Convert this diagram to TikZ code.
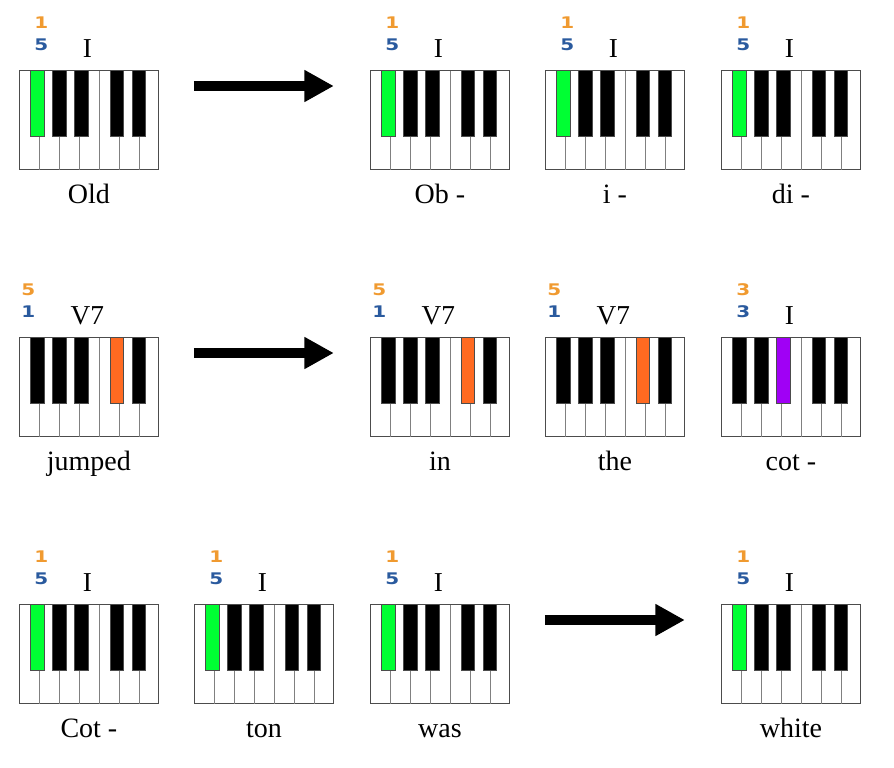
\documentclass[tikz,border=0pt]{standalone}
\usepackage{fontspec}
\setmainfont{Liberation Serif}
\newfontfamily\digitfont[FakeStretch=1.25]{DejaVu Sans}
\usetikzlibrary{arrows.meta}
\definecolor{key1}{HTML}{00FF33}
\definecolor{key3}{HTML}{A000F5}
\definecolor{key4}{HTML}{FF6A21}
\definecolor{fingertop}{HTML}{F09A30}
\definecolor{fingerbot}{HTML}{2A5A9E}
\tikzset{
  keyboard/.style={draw=black!70, fill=white, line width=.75pt, anchor=north west, inner sep=0pt, outer sep=0pt, minimum width=104.6pt, minimum height=74.6pt},
  blackkey/.style={draw=black!70, line width=.6pt},
  split/.style={draw=black!50, line width=1.1pt},
  chord/.style={font=\fontsize{20.5}{24}\selectfont, anchor=base, inner sep=0pt},
  lyric/.style={font=\fontsize{21}{24}\selectfont, anchor=base, inner sep=0pt},
  finger/.style={font=\digitfont\bfseries\fontsize{12}{14}\selectfont, inner sep=0pt},
  bigarrow/.style={line width=7.5pt, -{Triangle[length=22pt, width=22.5pt]}}
}
% name, x, y, chord, lyric, top finger, bottom finger, finger x, sounding key
\newcommand{\kb}[9]{
\begin{scope}[shift={(#2+.4,#3+.4)}]
\node (#1) [keyboard] at (0,0) {};
\foreach \kx in {20,40,60,100,120}
  \draw[split] (\kx,66) -- (\kx,99.2);
\draw[split] (80,.4) -- (80,99.2);
\foreach \n/\kx in {1/11.3,2/33.3,3/55.3,4/90.5,5/112.5} {
  \ifnum\n=#9 \def\keycol{key\n}\else\def\keycol{black}\fi
  \draw[blackkey, fill=\keycol] (\kx,0) rectangle (\kx+13.6,66.3);
}
\node (#1c) [chord] at (68,-13) {#4};
\node (#1l) [lyric] at (69.5,133) {#5};
\node (#1t) [finger, text=fingertop] at (#8,-48) {#6};
\node (#1b) [finger, text=fingerbot] at (#8,-26) {#7};
\end{scope}
}
\begin{document}
\begin{tikzpicture}[x=.75pt, y=-.75pt]
\useasboundingbox (0,0) rectangle (894,768);
\kb{old}{19}{70}{I}{Old}{1}{5}{22}{1}
\kb{ob}{370}{70}{I}{Ob -}{1}{5}{22}{1}
\kb{i}{545}{70}{I}{i -}{1}{5}{22}{1}
\kb{di}{721}{70}{I}{di -}{1}{5}{22}{1}
\kb{jumped}{19}{337}{V7}{jumped}{5}{1}{9}{4}
\kb{in}{370}{337}{V7}{in}{5}{1}{9}{4}
\kb{the}{545}{337}{V7}{the}{5}{1}{9}{4}
\kb{cot}{721}{337}{I}{cot -}{3}{3}{22}{3}
\kb{cotb}{19}{604}{I}{Cot -}{1}{5}{22}{1}
\kb{ton}{194}{604}{I}{ton}{1}{5}{22}{1}
\kb{was}{370}{604}{I}{was}{1}{5}{22}{1}
\kb{white}{721}{604}{I}{white}{1}{5}{22}{1}
\coordinate (a1) at ([shift={(35.1,15.6)}]old.north east);
\coordinate (b1) at ([shift={(-36.6,15.6)}]ob.north west);
\coordinate (a2) at ([shift={(35.1,15.6)}]jumped.north east);
\coordinate (b2) at ([shift={(-36.6,15.6)}]in.north west);
\coordinate (a3) at ([shift={(35.1,15.6)}]was.north east);
\coordinate (b3) at ([shift={(-36.6,15.6)}]white.north west);
\draw[bigarrow] (a1) -- (b1);
\draw[bigarrow] (a2) -- (b2);
\draw[bigarrow] (a3) -- (b3);
\end{tikzpicture}
\end{document}
